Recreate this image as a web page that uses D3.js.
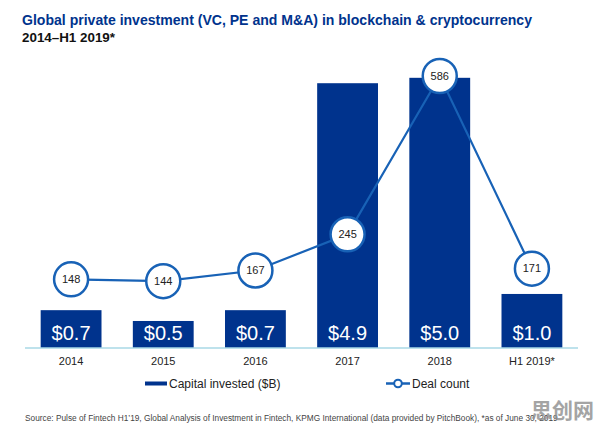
<!DOCTYPE html>
<html>
<head>
<meta charset="utf-8">
<script src="https://cdn.jsdelivr.net/npm/d3@7"></script>
<style>
  html, body { margin: 0; padding: 0; background: #fff; }
</style>
</head>
<body>
<div id="container"></div>
<script>
// chart data
const years = ["2014", "2015", "2016", "2017", "2018", "H1 2019*"];
const capital = [0.7, 0.5, 0.7, 4.9, 5.0, 1.0];   // capital invested ($B)
const deals = [148, 144, 167, 245, 586, 171];      // deal count

const titleText = "Global private investment (VC, PE and M&A) in blockchain & cryptocurrency";
const subtitleText = "2014\u2013H1 2019*";
const sourceText = "Source: Pulse of Fintech H1\u201919, Global Analysis of Investment in Fintech, KPMG International (data provided by PitchBook), *as of June 30, 2019";

document.addEventListener("DOMContentLoaded", function() {
    let container = document.getElementById('container');

    const width = 596, height = 428;
    const barColor = "#00338D";
    const lineColor = "#1862b6";
    const font = "'Liberation Sans', Arial, sans-serif";

    const svg = d3.create("svg")
        .attr("width", width)
        .attr("height", height)
        .attr("viewBox", [0, 0, width, height])
        .attr("font-family", font);

    // scales
    const x = d3.scaleBand()
        .domain(years)
        .range([25, 578])
        .paddingInner(0.34)
        .paddingOuter(0.17);

    const yCap = d3.scaleLinear().domain([0, 5.2]).range([348, 67]);
    const yDeal = d3.scaleLinear().domain([0, 600]).range([348, 69.5]);

    // title
    svg.append("text")
        .attr("x", 22).attr("y", 25)
        .attr("font-size", 15).attr("font-weight", "bold")
        .attr("fill", barColor)
        .attr("textLength", 510).attr("lengthAdjust", "spacingAndGlyphs")
        .text(titleText);

    svg.append("text")
        .attr("x", 22).attr("y", 42)
        .attr("font-size", 13).attr("font-weight", "bold")
        .attr("fill", "#111")
        .attr("textLength", 93).attr("lengthAdjust", "spacingAndGlyphs")
        .text(subtitleText);

    // bars
    svg.append("g")
        .attr("fill", barColor)
      .selectAll("rect")
        .data(capital)
        .join("rect")
          .attr("x", (d, i) => x(years[i]))
          .attr("y", d => yCap(d))
          .attr("width", x.bandwidth())
          .attr("height", d => yCap(0) - yCap(d));

    svg.append("g")
        .attr("fill", "#fff")
        .attr("font-size", 20)
        .attr("text-anchor", "middle")
      .selectAll("text")
        .data(capital)
        .join("text")
          .attr("x", (d, i) => x(years[i]) + x.bandwidth() / 2)
          .attr("y", yCap(0) - 8)
          .text(d => "$" + d3.format(".1f")(d));

    // baseline axis
    const xAxis = svg.append("g")
        .attr("transform", `translate(0,${yCap(0)})`)
        .call(d3.axisBottom(x).tickSize(0).tickPadding(9));
    xAxis.select(".domain")
        .attr("stroke", "#a9d9e6")
        .attr("stroke-width", 1.5)
        .attr("d", `M25,0H578`);
    xAxis.selectAll(".tick text")
        .attr("font-family", font)
        .attr("font-size", 11)
        .attr("fill", "#222");

    // deal count line
    const line = d3.line()
        .x((d, i) => x(years[i]) + x.bandwidth() / 2)
        .y(d => yDeal(d));

    svg.append("path")
        .datum(deals)
        .attr("fill", "none")
        .attr("stroke", lineColor)
        .attr("stroke-width", 2.2)
        .attr("d", line);

    const dot = svg.append("g")
      .selectAll("g")
        .data(deals)
        .join("g")
          .attr("transform", (d, i) => `translate(${x(years[i]) + x.bandwidth() / 2},${yDeal(d)})`);

    dot.append("circle")
        .attr("r", 17)
        .attr("fill", "#fff")
        .attr("stroke", lineColor)
        .attr("stroke-width", 2.5);

    dot.append("text")
        .attr("dy", "0.35em")
        .attr("text-anchor", "middle")
        .attr("font-size", 11)
        .attr("fill", "#222")
        .text(d => d);

    // legend
    const legend = svg.append("g").attr("font-size", 12).attr("fill", "#222");
    legend.append("rect")
        .attr("x", 145).attr("y", 381.5)
        .attr("width", 22).attr("height", 4)
        .attr("fill", barColor);
    legend.append("text")
        .attr("x", 169).attr("y", 388)
        .text("Capital invested ($B)");

    legend.append("line")
        .attr("x1", 386).attr("x2", 410)
        .attr("y1", 383.5).attr("y2", 383.5)
        .attr("stroke", lineColor)
        .attr("stroke-width", 2.5);
    legend.append("circle")
        .attr("cx", 398).attr("cy", 383.5).attr("r", 3.8)
        .attr("fill", "#fff")
        .attr("stroke", lineColor)
        .attr("stroke-width", 2);
    legend.append("text")
        .attr("x", 412).attr("y", 388)
        .text("Deal count");

    // source note
    svg.append("text")
        .attr("x", 25).attr("y", 421)
        .attr("font-size", 8.3)
        .attr("fill", "#444")
        .text(sourceText);

    // watermark
    svg.append("text")
        .attr("x", 531).attr("y", 418)
        .attr("font-family", "'Noto Sans CJK SC', sans-serif")
        .attr("font-size", 21)
        .attr("font-weight", "bold")
        .attr("fill", "#8e8e8e")
        .attr("opacity", 0.8)
        .text("思创网");

    container.append(svg.node());
});
</script>
</body>
</html>
